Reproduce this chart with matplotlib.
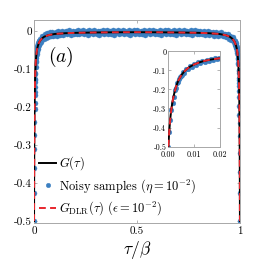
import matplotlib
matplotlib.use("Agg")
import matplotlib.pyplot as plt
import numpy as np

# ---------------- data ----------------
tau_curve = [0, 0.0002, 0.0004, 0.0006, 0.0008, 0.001, 0.0013, 0.0016, 0.002, 0.0025,
             0.003, 0.0035, 0.004, 0.005, 0.006, 0.007, 0.008, 0.009, 0.010, 0.012,
             0.014, 0.016, 0.018, 0.020, 0.025, 0.030, 0.040, 0.050, 0.070, 0.100,
             0.150, 0.200, 0.300, 0.400, 0.500,
             0.600, 0.700, 0.800, 0.850, 0.900, 0.930, 0.950, 0.960, 0.970, 0.975,
             0.980, 0.982, 0.984, 0.986, 0.988, 0.990, 0.991, 0.992, 0.993, 0.994,
             0.995, 0.996, 0.9965, 0.997, 0.9975, 0.998, 0.9984, 0.9987, 0.999, 0.9992,
             0.9994, 0.9996, 0.9998, 1.0]
G_exact = [-0.5, -0.45, -0.41, -0.375, -0.345, -0.32, -0.29, -0.265, -0.237, -0.208,
           -0.185, -0.166, -0.150, -0.126, -0.108, -0.095, -0.084, -0.076, -0.069, -0.058,
           -0.050, -0.044, -0.040, -0.036, -0.029, -0.024, -0.018, -0.014, -0.010, -0.007,
           -0.005, -0.004, -0.003, -0.0025, -0.0023,
           -0.0025, -0.003, -0.004, -0.005, -0.007, -0.010, -0.014, -0.018, -0.024, -0.029,
           -0.036, -0.040, -0.044, -0.050, -0.058, -0.069, -0.076, -0.084, -0.095, -0.108,
           -0.126, -0.150, -0.166, -0.185, -0.208, -0.237, -0.265, -0.29, -0.32, -0.345,
           -0.375, -0.41, -0.45, -0.5]
G_dlr = list(G_exact)

# noisy samples, tau in units of 1e-4 (tau/beta)
tau_left = [0, 4, 8, 12, 16, 20, 24, 28, 32, 36, 40, 44, 48, 52, 56, 60,
            68, 76, 84, 92, 100, 108, 116, 124, 132, 140, 148, 156, 164, 172,
            180, 188, 196, 204, 212, 220, 228, 236, 244, 252, 260, 268]
G_left = [-0.500, -0.425, -0.360, -0.310, -0.272, -0.240, -0.205, -0.190, -0.168, -0.160,
          -0.146, -0.134, -0.128, -0.125, -0.110, -0.112,
          -0.094, -0.093, -0.077, -0.080, -0.066, -0.070, -0.057, -0.061, -0.049, -0.054,
          -0.043, -0.049, -0.039, -0.046, -0.036, -0.042, -0.033, -0.039, -0.031, -0.037,
          -0.028, -0.034, -0.026, -0.032, -0.025, -0.030]

tau_mid = [280, 340, 400, 460, 520, 580, 640, 700, 760, 820,
           880, 940, 1000, 1060, 1120, 1180, 1240, 1300, 1360, 1420,
           1480, 1540, 1600, 1660, 1720, 1780, 1840, 1900, 1960, 2020,
           2080, 2140, 2200, 2260, 2320, 2380, 2440, 2500, 2560, 2620,
           2680, 2740, 2800, 2860, 2920, 2980, 3040, 3100, 3160, 3220,
           3280, 3340, 3400, 3460, 3520, 3580, 3640, 3700, 3760, 3820,
           3880, 3940, 4000, 4060, 4120, 4180, 4240, 4300, 4360, 4420,
           4480, 4540, 4600, 4660, 4720, 4780, 4840, 4900, 4960, 5020,
           5080, 5140, 5200, 5260, 5320, 5380, 5440, 5500, 5560, 5620,
           5680, 5740, 5800, 5860, 5920, 5980, 6040, 6100, 6160, 6220,
           6280, 6340, 6400, 6460, 6520, 6580, 6640, 6700, 6760, 6820,
           6880, 6940, 7000, 7060, 7120, 7180, 7240, 7300, 7360, 7420,
           7480, 7540, 7600, 7660, 7720, 7780, 7840, 7900, 7960, 8020,
           8080, 8140, 8200, 8260, 8320, 8380, 8440, 8500, 8560, 8620,
           8680, 8740, 8800, 8860, 8920, 8980, 9040, 9100, 9160, 9220,
           9280, 9340, 9400, 9460, 9520, 9580, 9640, 9700, 9760]
G_mid = [-0.020, -0.029, -0.013, -0.021, -0.008, -0.017, -0.005, -0.015, -0.003, -0.013,
         -0.002, -0.012, -0.009, -0.001, -0.011, 0.000, -0.010, -0.004, 0.001, -0.009,
         -0.003, 0.002, -0.008, -0.001, 0.003, -0.009, -0.002, 0.002, -0.007, 0.000,
         -0.006, 0.003, -0.008, 0.001, -0.004, 0.004, -0.007, -0.001, 0.002, -0.009,
         0.003, -0.005, 0.000, -0.008, 0.004, -0.002, -0.006, 0.002, -0.009, 0.001,
         -0.004, 0.003, -0.007, 0.000, 0.004, -0.008, -0.001, 0.002, -0.006, 0.003,
         -0.009, 0.001, -0.003, 0.004, -0.007, 0.000, -0.005, 0.003, -0.008, 0.002,
         -0.002, -0.006, 0.004, -0.009, 0.001, -0.004, 0.003, -0.007, 0.000, 0.004,
         -0.008, -0.001, 0.002, -0.006, 0.003, -0.009, 0.001, -0.003, 0.004, -0.007,
         0.000, -0.005, 0.003, -0.008, 0.002, -0.002, -0.006, 0.004, -0.009, 0.001,
         -0.004, 0.003, -0.007, 0.000, 0.004, -0.008, -0.001, 0.002, -0.006, 0.003,
         -0.009, 0.001, -0.003, 0.004, -0.007, 0.000, -0.005, 0.003, -0.008, 0.002,
         -0.002, -0.006, 0.004, -0.009, 0.001, -0.004, 0.003, -0.007, 0.000, -0.006,
         0.002, -0.008, -0.001, 0.001, -0.009, -0.003, 0.000, -0.010, -0.002, -0.006,
         -0.001, -0.011, -0.004, -0.002, -0.012, -0.005, -0.009, -0.003, -0.013, -0.007,
         -0.006, -0.016, -0.008, -0.019, -0.011, -0.023, -0.015, -0.028, -0.026]

tau_right = [9732, 9740, 9748, 9756, 9764, 9772, 9780, 9788, 9796, 9804,
             9812, 9820, 9828, 9836, 9844, 9852, 9860, 9868, 9876, 9884,
             9892, 9900, 9908, 9916, 9924, 9932,
             9940, 9944, 9948, 9952, 9956, 9960, 9964, 9968, 9972, 9976,
             9980, 9984, 9988, 9992, 9996, 10000]
G_right = [-0.024, -0.031, -0.026, -0.033, -0.028, -0.035, -0.030, -0.037, -0.032, -0.040,
           -0.035, -0.043, -0.038, -0.046, -0.041, -0.051, -0.047, -0.056, -0.052, -0.063,
           -0.062, -0.071, -0.072, -0.084, -0.085, -0.101,
           -0.105, -0.111, -0.124, -0.127, -0.137, -0.143, -0.158, -0.174, -0.197, -0.220,
           -0.242, -0.276, -0.322, -0.371, -0.426, -0.500]

main_yticks = [0, -0.1, -0.2, -0.3, -0.4, -0.5]
main_ytick_labels = ["0", "-0.1", "-0.2", "-0.3", "-0.4", "-0.5"]
main_xticks = [0, 0.5, 1]
main_xtick_labels = ["0", "0.5", "1"]
inset_xticks = [0, 0.01, 0.02]
inset_xtick_labels = ["0.00", "0.01", "0.02"]

labels = [r"$G(\tau)$", r"Noisy samples ($\eta = 10^{-2}$)",
          r"$G_{\mathrm{DLR}}(\tau)$ ($\epsilon = 10^{-2}$)"]

# ---------------- styling ----------------
plt.rcParams["font.family"] = ["cmr10", "DejaVu Serif"]
plt.rcParams["mathtext.fontset"] = "cm"
plt.rcParams["axes.unicode_minus"] = False

blue = "#3b7fc1"
red = "#e8262d"
spine_col = "#a8a8a8"

tau_s = np.array(tau_left + tau_mid + tau_right) / 1e4
G_s = np.array(G_left + G_mid + G_right)


def draw(ax, ms, lw):
    h1, = ax.plot(tau_s, G_s, "o", ms=ms, color=blue, mec=blue, mew=0.3, zorder=2)
    h0, = ax.plot(tau_curve, G_exact, "-", color="black", lw=lw, zorder=3)
    h2, = ax.plot(tau_curve, G_dlr, "--", color=red, lw=lw, dashes=(3.5, 2.2), zorder=4)
    return h0, h1, h2


def style(ax, fs, xpad=1.5):
    for s in ax.spines.values():
        s.set_color(spine_col)
        s.set_linewidth(0.7)
    ax.tick_params(direction="in", length=2, width=0.6, color=spine_col,
                   top=True, right=True, labelsize=fs, pad=1.5)
    ax.tick_params(axis="x", pad=xpad)


fig = plt.figure(figsize=(2.66, 2.66), dpi=100)
ax = fig.add_axes([0.128, 0.162, 0.774, 0.763])
h0, h1, h2 = draw(ax, 3.6, 1.4)
ax.set_xlim(0, 1)
ax.set_ylim(-0.505, 0.03)
ax.set_xticks(main_xticks)
ax.set_xticklabels(main_xtick_labels)
ax.set_yticks(main_yticks)
ax.set_yticklabels(main_ytick_labels)
style(ax, 8, xpad=2.5)
ax.set_xlabel(r"$\tau/\beta$", fontsize=12.5, labelpad=2)
ax.text(0.13, 0.82, r"$(a)$", transform=ax.transAxes, fontsize=14,
        ha="center", va="center")

leg = ax.legend([h0, h1, h2], labels, loc="lower left", bbox_to_anchor=(-0.01, -0.01),
                frameon=False, fontsize=9, handlelength=1.3, handletextpad=0.3,
                labelspacing=0.38, borderaxespad=0.2, markerscale=0.9)

ins = fig.add_axes([0.633, 0.449, 0.194, 0.358])
draw(ins, 3.4, 1.4)
ins.set_xlim(0, 0.02)
ins.set_ylim(-0.5, 0)
ins.set_xticks(inset_xticks)
ins.set_xticklabels(inset_xtick_labels)
ins.set_yticks(main_yticks)
ins.set_yticklabels(main_ytick_labels)
style(ins, 5.8, xpad=3)

fig.savefig("out.png", dpi=100)
